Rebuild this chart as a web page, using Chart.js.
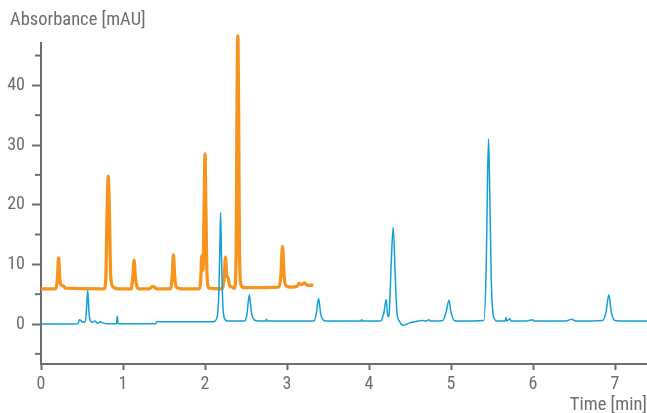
<!DOCTYPE html>
<html>
<head>
<meta charset="utf-8">
<script src="https://cdn.jsdelivr.net/npm/chart.js@4.4.1/dist/chart.umd.min.js"></script>
<style>
  html, body { margin: 0; padding: 0; background: #fff; }
  #wrap { width: 647px; height: 413px; }
</style>
</head>
<body>
<div id="wrap"><canvas id="chrom"></canvas></div>
<script>
// blue trace (time [min], absorbance [mAU])
var blueTime = [0.00, 0.45, 0.47, 0.49, 0.51, 0.54, 0.555, 0.57, 0.585, 0.60, 0.63, 0.66, 0.69, 0.72, 0.76, 0.80,
  0.92, 0.93, 0.94, 1.40, 1.41, 2.10, 2.14, 2.165, 2.18, 2.19, 2.20, 2.215, 2.235, 2.27, 2.48, 2.51, 2.54, 2.565,
  2.60, 2.65, 2.74, 2.75, 2.76, 3.33, 3.36, 3.385, 3.41, 3.45, 3.50, 3.90, 3.91, 3.92, 4.14, 4.18, 4.21, 4.23,
  4.245, 4.27, 4.295, 4.32, 4.34, 4.37, 4.42, 4.50, 4.60, 4.65, 4.70, 4.73, 4.75, 4.90, 4.94, 4.975, 5.00, 5.04,
  5.10, 5.40, 5.43, 5.445, 5.458, 5.47, 5.49, 5.515, 5.56, 5.66, 5.67, 5.68, 5.72, 5.73, 5.90, 6.00, 6.01, 6.40,
  6.47, 6.52, 6.85, 6.89, 6.925, 6.955, 7.00, 7.10, 7.40];
var blueAbs = [0, 0.05, 0.7, 0.5, 0.3, 0.4, 2.5, 5.7, 2.0, 0.6, 0.3, 0.5, 0.1, 0.4, 0.2, 0.05,
  0.05, 1.3, 0.05, 0.05, 0.4, 0.4, 0.8, 4.0, 12.0, 18.7, 12.0, 4.0, 1.0, 0.5, 0.5, 1.5, 4.9, 2.0,
  0.7, 0.5, 0.5, 0.8, 0.5, 0.5, 2.0, 4.3, 1.8, 0.6, 0.5, 0.5, 0.7, 0.5, 0.5, 1.8, 4.1, 1.2,
  1.5, 10.0, 16.2, 8.0, 2.0, 0.5, -0.2, 0.2, 0.5, 0.6, 0.5, 0.7, 0.5, 0.6, 2.0, 4.0, 2.0, 0.6,
  0.5, 0.6, 10.0, 24.0, 31.0, 24.0, 8.0, 1.5, 0.5, 0.5, 1.1, 0.5, 0.9, 0.5, 0.5, 0.7, 0.5, 0.5,
  0.8, 0.5, 0.6, 2.0, 4.9, 2.0, 0.6, 0.5, 0.5];

// orange trace
var orangeTime = [0.00, 0.18, 0.20, 0.215, 0.23, 0.25, 0.27, 0.30, 0.77, 0.79, 0.805, 0.82, 0.835, 0.85, 0.88, 0.95,
  1.10, 1.12, 1.135, 1.15, 1.17, 1.20, 1.32, 1.36, 1.42, 1.58, 1.60, 1.615, 1.63, 1.65, 1.70, 1.93, 1.95, 1.96,
  1.975, 1.99, 2.00, 2.01, 2.025, 2.05, 2.21, 2.235, 2.25, 2.265, 2.28, 2.30, 2.33, 2.36, 2.38, 2.39, 2.40, 2.41,
  2.42, 2.44, 2.48, 2.90, 2.925, 2.945, 2.965, 2.99, 3.05, 3.12, 3.15, 3.18, 3.21, 3.25, 3.32];
var orangeAbs = [5.9, 5.9, 7.5, 11.1, 7.5, 6.5, 6.4, 6.0, 5.9, 7.5, 18.0, 24.8, 18.0, 8.0, 6.2, 5.9,
  5.9, 8.0, 10.7, 8.0, 6.3, 5.9, 5.9, 6.3, 5.9, 5.9, 8.0, 11.6, 8.0, 6.2, 5.9, 5.9, 8.0, 11.4,
  9.0, 20.0, 28.5, 20.0, 8.0, 6.0, 5.9, 8.0, 11.2, 8.0, 7.8, 6.5, 6.2, 6.0, 12.0, 35.0, 48.3, 35.0,
  12.0, 6.5, 6.1, 6.2, 8.0, 13.0, 8.0, 6.4, 6.2, 6.3, 6.8, 6.6, 6.9, 6.5, 6.5];

var xTicks = [0, 1, 2, 3, 4, 5, 6, 7];
var yTicks = [-5, 0, 5, 10, 15, 20, 25, 30, 35, 40, 45];
var yTitle = 'Absorbance [mAU]';

var gray = '#6d6e71';
var fam = "'Roboto Condensed', Roboto, sans-serif";

function pts(xs, ys) {
    return xs.map(function (t, i) { return { x: t, y: ys[i] } })
}

// y axis title in the top-left corner + short minor ticks
var axisExtras = {
    id: 'axisExtras',
    afterDraw: function (chart) {
        var y = chart.scales.y
        var ctx = chart.ctx
        ctx.save()
        ctx.fillStyle = gray
        ctx.font = '18.5px ' + fam
        ctx.textBaseline = 'middle'
        ctx.textAlign = 'left'
        ctx.fillText(yTitle, 10, 20.5)

        ctx.strokeStyle = gray
        ctx.lineWidth = 2
        yTicks.forEach(function (v) {
            if (v % 10 === 0) return
            var py = y.getPixelForValue(v)
            ctx.beginPath()
            ctx.moveTo(y.right - 6, py)
            ctx.lineTo(y.right, py)
            ctx.stroke()
        })
        ctx.restore()
    }
}

new Chart(document.getElementById('chrom').getContext('2d'), {
    type: 'line',
    data: {
        datasets: [{
            data: pts(blueTime, blueAbs),
            borderColor: '#129fda',
            borderWidth: 1.5,
            pointRadius: 0,
            cubicInterpolationMode: 'monotone',
            clip: false,
            order: 0
        }, {
            data: pts(orangeTime, orangeAbs),
            borderColor: '#f7941d',
            borderWidth: 3.3,
            pointRadius: 0,
            cubicInterpolationMode: 'monotone',
            clip: false,
            order: 1
        }]
    },
    options: {
        responsive: true,
        maintainAspectRatio: false,
        animation: false,
        layout: { padding: { left: 0, right: 0, top: 43, bottom: 0 } },
        plugins: {
            legend: { display: false },
            tooltip: { enabled: false },
            title: { display: false }
        },
        scales: {
            x: {
                type: 'linear',
                min: 0,
                max: 7.39,
                afterBuildTicks: function (s) { s.ticks = xTicks.map(function (v) { return { value: v } }) },
                afterFit: function (s) { s.height = 49 },
                border: { color: gray, width: 2 },
                grid: { display: true, drawOnChartArea: false, tickLength: 6, tickColor: gray, tickWidth: 2 },
                ticks: { color: gray, font: { family: fam, size: 18 }, padding: 4, maxRotation: 0 },
                title: {
                    display: true,
                    text: 'Time [min]',
                    align: 'end',
                    color: gray,
                    font: { family: fam, size: 18.5 },
                    padding: { top: 0, bottom: -3 }
                }
            },
            y: {
                type: 'linear',
                min: -6.7,
                max: 47.1,
                afterBuildTicks: function (s) { s.ticks = yTicks.map(function (v) { return { value: v } }) },
                afterFit: function (s) { s.width = 41 },
                border: { color: gray, width: 2 },
                grid: {
                    display: true,
                    drawOnChartArea: false,
                    tickLength: 9,
                    tickWidth: 2,
                    tickColor: function (c) { return c.tick && c.tick.value % 10 === 0 ? gray : 'rgba(0,0,0,0)' }
                },
                ticks: {
                    color: gray,
                    font: { family: fam, size: 18 },
                    padding: 7,
                    callback: function (v) { return v % 10 === 0 ? v : '' }
                }
            }
        }
    },
    plugins: [axisExtras]
})
</script>
</body>
</html>
